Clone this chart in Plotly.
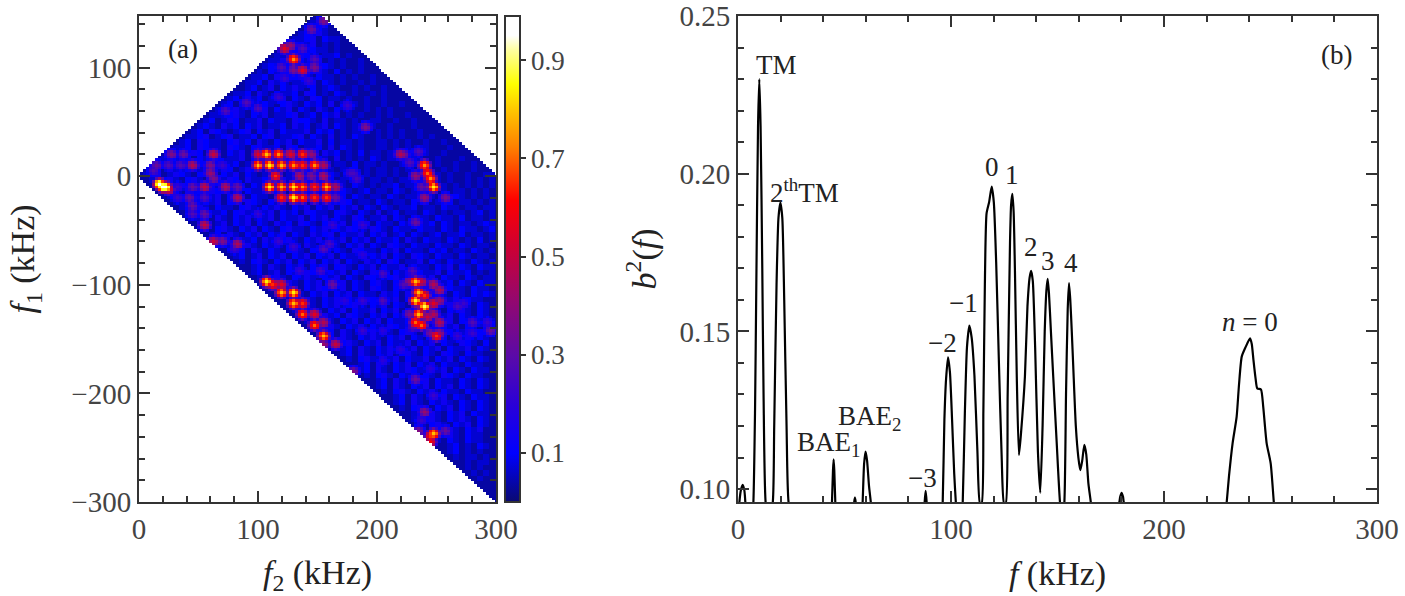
import plotly.graph_objects as go
from plotly.subplots import make_subplots

W, H = 1405, 596
FONT = "Liberation Serif"
INK = "#333333"
L, R, T, B = 139, 28, 16, 94
PW = W - L - R

# ---------- panel (b): spectrum ----------
f_khz = [0.0, 0.6, 1.3, 2.2, 3.0, 3.5, 4.5, 6.5, 7.2, 8.0, 8.6, 9.4, 10.0, 10.6, 11.4, 12.0, 13.0, 14.5,
         16.3, 17.0, 18.1, 19.0, 19.9, 20.8, 21.7, 22.8, 23.8, 26.0, 43.6, 44.1, 44.6, 44.9, 45.2, 45.7, 46.2,
         54.2, 54.5, 54.9, 55.3, 55.6, 58.0, 58.5, 59.2, 59.9, 60.6, 61.5, 62.4, 63.0,
         87.3, 87.6, 88.1, 88.6, 88.9, 95.6, 96.1, 96.9, 97.7, 98.6, 99.5, 100.5, 101.5, 102.3, 103.0,
         105.0, 105.5, 106.5, 107.5, 108.6, 109.7, 111.0, 112.4, 113.6, 114.4, 115.2, 115.9, 116.7, 117.9, 119.1,
         120.1, 121.2, 122.5, 123.8, 124.9, 125.7, 126.6, 127.7, 128.2, 128.8, 129.4, 130.0, 130.9, 131.9, 132.9,
         134.7, 135.9, 136.9, 137.6, 138.4, 139.5, 140.8, 141.9, 143.0, 144.0, 144.8, 145.4, 146.0, 146.9, 148.0,
         149.6, 151.2, 152.2, 153.2, 154.0, 154.8, 155.4, 156.0, 156.7, 157.4, 158.6, 159.8, 160.7, 161.6, 162.6,
         163.5, 164.5, 165.7, 166.5, 178.8, 179.4, 180.1, 180.8, 181.4,
         228.6, 229.4, 230.5, 232.2, 234.1, 235.2, 236.5, 238.3, 240.4, 241.2, 242.0, 243.0, 243.8, 245.5, 246.6,
         248.2, 250.1, 251.6, 252.5, 300.0]
b2_val = [0.090, 0.0955, 0.0995, 0.1013, 0.0995, 0.0955, 0.090, 0.090, 0.0955, 0.125, 0.165, 0.215, 0.2300, 0.215,
          0.170, 0.130, 0.0955, 0.090,
          0.0955, 0.120, 0.165, 0.186, 0.1908, 0.186, 0.160, 0.120, 0.0955, 0.090, 0.090, 0.0955, 0.106, 0.1094, 0.106,
          0.0955, 0.090,
          0.090, 0.0955, 0.0973, 0.0955, 0.090, 0.090, 0.0955, 0.108, 0.1119, 0.109, 0.101, 0.0955, 0.090,
          0.090, 0.0955, 0.0994, 0.0955, 0.090, 0.090, 0.0955, 0.122, 0.135, 0.1418, 0.137, 0.122, 0.105, 0.0955, 0.090,
          0.090, 0.0955, 0.124, 0.145, 0.1518, 0.148, 0.136, 0.112, 0.0955, 0.0955, 0.125, 0.165, 0.1874, 0.191, 0.1959,
          0.191, 0.172, 0.140, 0.110, 0.0955, 0.0955, 0.130, 0.178, 0.190, 0.1936, 0.188, 0.170, 0.135, 0.1108, 0.118,
          0.1356, 0.158, 0.167, 0.1692, 0.166, 0.145, 0.112, 0.0988, 0.120, 0.150, 0.163, 0.1667, 0.162, 0.150, 0.1356,
          0.115, 0.0955, 0.090, 0.0955, 0.130, 0.157, 0.1653, 0.160, 0.150, 0.1388, 0.120, 0.110, 0.106, 0.109, 0.114,
          0.111, 0.1018, 0.0955, 0.090, 0.0955, 0.0975, 0.0988, 0.0975, 0.0955,
          0.090, 0.0955, 0.104, 0.1145, 0.1229, 0.133, 0.1420, 0.145, 0.1478, 0.146, 0.1409, 0.135, 0.1319, 0.1316, 0.126,
          0.1145, 0.1081, 0.0955, 0.090, 0.090]

b_labels = ["TM", "2<sup>th</sup>TM", "0", "1", "2", "3", "4", "−1", "−2", "−3",
            "BAE<sub>1</sub>", "BAE<sub>2</sub>", "<i>n</i> = 0", "(b)"]
b_label_f = [18.3, 31.0, 119.2, 128.6, 137.6, 145.5, 156.3, 106.1, 96.2, 86.4, 42.3, 61.5, 240.4, 281.2]
b_label_y = [0.2345, 0.1945, 0.2021, 0.1996, 0.1768, 0.1723, 0.1717, 0.159, 0.1463, 0.1036, 0.1143, 0.1226, 0.153, 0.2376]

# ---------- panel (a): bicoherence map ----------
# estimated background level in 5 kHz cells; each row lists only the cells inside the wedge,
# rows run f1 = 145, 140, ... -295
bg_rows = [
    "02", "0111", "021210", "01213100", "0112302110", "011213010100", "01023121101000", "0112032101120100",
    "011320211301010010", "01201231020210100100", "0102130112031020101000", "011203102310211010100100",
    "01120312011230210100101000", "0012013021310201210010100100", "011203102112032010210100101000",
    "01203120113021032011010010010000", "0120130121023102120301010100100100",
    "012031021302130210310201001010100000", "01102310213011230120213010100101001000",
    "0120132011302110322103011010011001001000", "012103120213011203120130210110100100010000",
    "01203210123021302111302120101100101010010000", "0112301230112023011230210301021001010100101000",
    "012032110231203102130211302011010011010100100100", "01120321103210231120320112030210100110101001000100",
    "0112032013021301212031021103120102011010110010010000",
    "012031021320113021203102310210301010210110101001000100",
    "01120310213021201320310213011201102011010011010010010010",
    "0120310231021320132012031021302101120101101010010010100100",
    "012301321023102130210132013021102101101011010010101010010011",
    "01123102310201320311202310213012010210110101100101010010101",
    "0120132012310321021302113021320110210101120110110101010101",
    "011203021320130211302103120230121012011021010110101101010",
    "01203102130213021103213021103120210110210110210102101010",
    "0112302130210321021302103120132011021011021101120110101",
    "012031021102310213102130213021302102101120110211011011",
    "01203112023102130212032110231021030120110210101101201",
    "0112031021302130211302130210320113021021102110201101",
    "012013021302103120321021130213021102101120210110121",
    "01023102130210231102130213210321021102110210211012",
    "0120310213021302103123021130213012021012011201101",
    "012031120310231021302130213021120310211021010201",
    "01120310213012031023102130210321021102110210110",
    "0012031021023102130210321102130211021201102101",
    "012013021302130213021130213021032102110210110",
    "01023102130213021302103120320113021021102101",
    "0012031021302130231021302113021102130210211",
    "012013021032102130210321021302113021120101",
    "01023102131021302103210231020130211021011",
    "0012031021302130210231021302103120210211",
    "012031021320130210321021130213021102110",
    "01023102130213021103120321021102102121",
    "001203102130210320113021302101302110",
    "01203102130231021302103120213021021",
    "0102310213021130213021032102131021",
    "001203120321021302103210213021021",
    "01203102130213021120320113021301",
    "0102310213021032110231021302102",
    "001203102130210231021302113021",
    "01203102131021302103120213021",
    "0102310213021130213021032102",
    "001203102130213021302113021",
    "01203102130231021032102110",
    "0102310213021130213021021",
    "001203102130213021102110",
    "01203102132102130210211",
    "0102310213021032102110",
    "001203102130211021021",
    "01203102130213021021",
    "0102310213021102110",
    "001203102130210211",
    "01203102131021021",
    "0102310213021021",
    "001203102130211",
    "01203102131021",
    "0102310213021",
    "001203102130",
    "01203102110",
    "0102102110",
    "001201021",
    "01201010",
    "0101101",
    "001011",
    "01010",
    "0101",
    "010",
    "00",
    "0",
]

# bright spots
spot_f2 = [
    99.4, 108.6, 118.5, 128.2, 138.0, 146.0,
    98.8, 110.0, 119.3, 128.8, 137.5, 147.3, 156.2,
    116.2, 135.8, 145.0, 155.7,
    109.5, 119.0, 129.0, 138.6, 147.0, 156.5, 166.0,
    119.8, 129.0, 138.0, 147.0, 156.8, 166.0,
    20.4, 17.5, 22.5, 24.6, 61.9, 28.0, 36.4, 24.6, 35.0, 46.2, 60.2, 69.4, 59.6, 63.0, 14.8, 11.5,
    54.9, 44.2, 33.0, 71.7, 81.5, 42.3, 55.4, 82.6, 33.0, 45.6, 45.6, 55.4, 54.9,
    62.4, 70.8, 82.6, 80.6,
    219.3, 222.0, 238.9, 226.3, 241.7, 243.9, 233.3, 248.7, 236.7, 239.5, 258.0, 233.3, 236.0,
    230.0, 233.3, 227.7, 237.5, 247.3, 221.3,
    235.5, 240.3, 252.3, 233.3, 240.0, 248.7, 252.3,
    236.1, 241.7, 226.9, 248.1, 252.3, 233.3, 237.0, 245.9, 249.5, 252.3, 229.0, 204.7, 204.7,
    108.6, 111.4, 119.0, 119.0, 128.8, 128.8, 138.6, 138.6, 147.0, 147.0, 156.2, 156.2,
    166.0, 156.2, 161.8, 180.6, 233.2, 238.8, 237.4, 247.8, 243.9, 245.8, 236.0, 257.0, 247.2, 280.8, 296.0,
    129.1, 137.5, 129.6, 147.3, 146.4, 128.2, 136.6, 145.0, 154.8, 121.8, 121.2, 143.6,
    89.0, 98.8, 71.7, 117.0, 175.8, 189.3, 122.6, 219.2,
    180.0, 181.5, 188.5, 188.5, 205.3, 187.0, 188.5, 267.0, 281.0, 279.5, 292.0, 267.0, 205.3,
    153.4, 135.2, 188.4, 205.2, 205.2, 171.6, 188.4, 205.2, 244.4, 219.2, 272.4,
    160.4, 154.8, 118.4, 129.6, 163.2, 178.6, 182.8, 233.2, 238.8, 257.0, 100.2,
]
spot_f1 = [
    20.3, 20.3, 20.3, 20.3, 20.3, 20.3,
    10.2, 10.2, 10.2, 10.2, 10.2, 10.2, 10.2,
    0.3, 0.3, 0.3, 0.3,
    -9.2, -9.2, -9.2, -9.2, -9.2, -9.2, -9.2,
    -19.9, -19.9, -19.9, -19.9, -19.9, -19.9,
    -9.8, -7.5, -10.0, -12.2, 20.9, 18.8, 19.4, 10.2, 10.2, 10.2, 10.2, 10.2, 2.5, -2.1, 9.2, 5.6,
    -9.8, -9.8, -9.8, -9.8, -9.8, -20.5, -20.5, -20.5, -20.5, -26.7, -34.3, -35.0, -45.0,
    -60.4, -58.9, -61.4, -68.7,
    20.3, 19.0, 10.2, 11.7, 3.1, -2.7, 0.0, -9.8, -9.8, -19.9, -21.1, -43.6, 21.5,
    -86.5, -97.3, -96.4, -98.2, -99.7, -99.7,
    -107.4, -110.2, -106.2, -116.0, -119.4, -117.2, -116.0,
    -127.0, -129.5, -128.0, -128.6, -135.0, -134.7, -138.7, -144.3, -148.0, -145.5, -140.0, -115.7, -89.0,
    -98.3, -100.4, -98.9, -108.7, -108.1, -117.9, -117.9, -128.0, -126.5, -137.3, -135.7, -146.5,
    -155.7, -155.7, -98.9, -179.3, -188.5, -218.6, -225.4, -237.7, -240.7, -244.7, -235.5, -236.0, -202.4, -135.7, -142.0,
    108.4, 98.2, 97.0, 100.7, 106.8, 120.7, 116.7, 135.0, 143.0, 117.6, 100.7, 87.5,
    66.3, 62.3, 59.3, 72.0, 65.4, 43.9, 89.0, 20.0,
    2.5, -2.0, -45.0, -72.7, -89.6, -115.7, -143.3, -118.8, -134.0, -145.0, -134.0, -148.0, -143.3,
    -88.0, -88.0, -115.8, -115.8, -89.7, -114.0, -142.0, -169.5, -177.0, -158.8, -117.3,
    -62.0, -66.6, -59.0, -65.0, -45.0, 2.5, -2.2, -43.6, -19.0, -20.5, -34.4,
]
spot_val = [
    0.56, 0.79, 0.74, 0.56, 0.65, 0.42,
    0.79, 0.84, 0.79, 0.74, 0.65, 0.74, 0.47,
    0.65, 0.47, 0.37, 0.47,
    0.84, 0.79, 0.84, 0.74, 0.65, 0.79, 0.47,
    0.65, 0.84, 0.70, 0.65, 0.65, 0.33,
    1.00, 1.00, 1.00, 0.56, 0.51, 0.37, 0.33, 0.28, 0.28, 0.47, 0.37, 0.23, 0.42, 0.37, 0.33, 0.28,
    0.51, 0.33, 0.23, 0.47, 0.33, 0.33, 0.28, 0.47, 0.23, 0.33, 0.28, 0.33, 0.51,
    0.51, 0.37, 0.47, 0.23,
    0.47, 0.37, 0.74, 0.28, 0.70, 0.74, 0.42, 0.84, 0.33, 0.42, 0.37, 0.33, 0.28,
    0.28, 0.79, 0.42, 0.51, 0.47, 0.28,
    0.79, 0.65, 0.47, 0.84, 0.88, 0.56, 0.42,
    0.79, 0.51, 0.37, 0.47, 0.47, 0.70, 0.70, 0.37, 0.65, 0.42, 0.28, 0.28, 0.23,
    0.84, 0.65, 0.56, 0.79, 0.84, 0.79, 0.65, 0.70, 0.56, 0.70, 0.47, 0.79,
    0.51, 0.42, 0.33, 0.37, 0.33, 0.42, 0.23, 0.79, 0.65, 0.60, 0.37, 0.33, 0.23, 0.28, 0.33,
    0.74, 0.56, 0.37, 0.37, 0.28, 0.42, 0.28, 0.33, 0.37, 0.56, 0.28, 0.23,
    0.28, 0.28, 0.28, 0.23, 0.23, 0.37, 0.23, 0.47,
    0.26, 0.23, 0.23, 0.20, 0.26, 0.23, 0.23, 0.26, 0.26, 0.23, 0.23, 0.23, 0.20,
    0.26, 0.23, 0.23, 0.23, 0.23, 0.20, 0.23, 0.20, 0.20, 0.20, 0.23,
    0.26, 0.28, 0.23, 0.23, 0.23, 0.26, 0.26, 0.26, 0.23, 0.26, 0.23,
]

CELL = 2.5
x_cells = [i * CELL for i in range(121)]
y_cells = [150 - j * CELL for j in range(181)]

z = []
for j, yv in enumerate(y_cells):
    row = []
    for i, xv in enumerate(x_cells):
        if not (yv <= xv + 0.01 and yv <= 300 - xv + 0.01 and yv >= -xv - 0.01):
            row.append(None)
            continue
        r = min(max((j - 1) // 2, 0), len(bg_rows) - 1)        # 5 kHz background row
        f1_row = 145 - 5 * r
        k = i // 2 - abs(f1_row) // 5
        digits = bg_rows[r]
        d = int(digits[k]) if 0 <= k < len(digits) else 0
        row.append(0.035 + 0.032 * d)
    z.append(row)

halo = [(0, 0, 1.0), (0, 1, 0.88), (0, -1, 0.84), (1, 0, 0.86), (-1, 0, 0.86),
        (1, 1, 0.74), (-1, -1, 0.74), (1, -1, 0.66), (-1, 1, 0.66),
        (0, 2, 0.46), (0, -2, 0.44), (2, 0, 0.42), (-2, 0, 0.42),
        (1, 2, 0.32), (-1, 2, 0.32), (1, -2, 0.32), (-1, -2, 0.32), (2, 1, 0.28), (-2, 1, 0.28), (2, -1, 0.28), (-2, -1, 0.28)]
for fx, fy, v in zip(spot_f2, spot_f1, spot_val):
    ci, cj = round(fx / CELL), round((150 - fy) / CELL)
    for dj, di, w in halo:
        a, b = cj + dj, ci + di
        if 0 <= a < len(y_cells) and 0 <= b < len(x_cells) and z[a][b] is not None:
            z[a][b] = max(z[a][b], v * w)

colorscale = [
    [0.00, "#0a0a70"], [0.10, "#0000ff"], [0.20, "#2a00d8"], [0.30, "#5a0aa8"], [0.42, "#96086c"],
    [0.53, "#d00030"], [0.62, "#ff0000"], [0.73, "#ff8000"], [0.80, "#ffc000"], [0.86, "#ffff00"],
    [0.93, "#ffffa0"], [0.96, "#ffffff"], [1.00, "#ffffff"],
]

fig = make_subplots(rows=1, cols=2)

fig.add_trace(go.Heatmap(
    x=x_cells, y=y_cells, z=z, zmin=0, zmax=0.99, colorscale=colorscale, hoverongaps=False,
    colorbar=dict(
        x=(505 - L) / PW, xanchor="left", y=0, yanchor="bottom", lenmode="fraction", len=1,
        thicknessmode="pixels", thickness=15, xpad=0, ypad=0, outlinecolor=INK, outlinewidth=2,
        tickvals=[0.1, 0.3, 0.5, 0.7, 0.9], ticks="outside", ticklen=5, tickwidth=2, tickcolor=INK,
        tickfont=dict(family=FONT, size=27, color="#444444"),
    ),
), row=1, col=1)

fig.add_trace(go.Scatter(
    x=f_khz, y=b2_val, mode="lines", line=dict(color="black", width=2.2, shape="spline", smoothing=0.6),
    showlegend=False,
), row=1, col=2)

axis_common = dict(
    automargin=False, showgrid=False, zeroline=False, showline=True, linecolor=INK, linewidth=2, mirror="allticks",
    ticks="inside", ticklen=11, tickwidth=2, tickcolor=INK, ticklabeloverflow="allow",
    tickfont=dict(family=FONT, size=29, color="#444444"),
)
minor = lambda d: dict(dtick=d, ticks="inside", ticklen=6, tickwidth=2, tickcolor=INK, showgrid=False)
title_font = dict(family=FONT, size=34, color="#222222")

fig.update_xaxes(axis_common)
fig.update_yaxes(axis_common)

fig.update_xaxes(row=1, col=1, domain=[0, 357 / PW], range=[0, 300], tick0=0, dtick=100, minor=minor(20),
                 title=dict(text="<i>f</i><sub>2</sub> (kHz)", font=title_font, standoff=17))
fig.update_yaxes(row=1, col=1, domain=[0, 1], range=[-300, 147.5], tick0=0, dtick=100, minor=minor(20),
                 title=dict(text="<i>f</i><sub>1</sub> (kHz)", font=title_font, standoff=26))
fig.update_xaxes(row=1, col=2, domain=[599 / PW, 1], range=[0, 300], tick0=0, dtick=100, minor=minor(20),
                 title=dict(text="<i>f</i> (kHz)", font=title_font, standoff=17))
fig.update_yaxes(row=1, col=2, domain=[0, 1], range=[0.0959, 0.25001], tick0=0.1, dtick=0.05,
                 tickformat=".2f", minor=minor(0.01),
                 title=dict(text="<i>b</i><sup>2</sup>(<i>f</i>)", font=title_font, standoff=13))

for txt, fx, fy in zip(b_labels, b_label_f, b_label_y):
    fig.add_annotation(x=fx, y=fy, xref="x2", yref="y2", text=txt, showarrow=False,
                       font=dict(family=FONT, size=27, color="#222222"))
fig.add_annotation(x=37, y=117, xref="x", yref="y", text="(a)", showarrow=False,
                   font=dict(family=FONT, size=27, color="#222222"))

fig.update_layout(
    width=W, height=H, margin=dict(l=L, r=R, t=T, b=B, autoexpand=False),
    paper_bgcolor="white", plot_bgcolor="white", showlegend=False,
    font=dict(family=FONT),
)

# the page's default 8 px body margin would push the figure out of the window
fig.write_html("out.html", config={"displayModeBar": False},
               post_script="document.body.style.margin='0';")
